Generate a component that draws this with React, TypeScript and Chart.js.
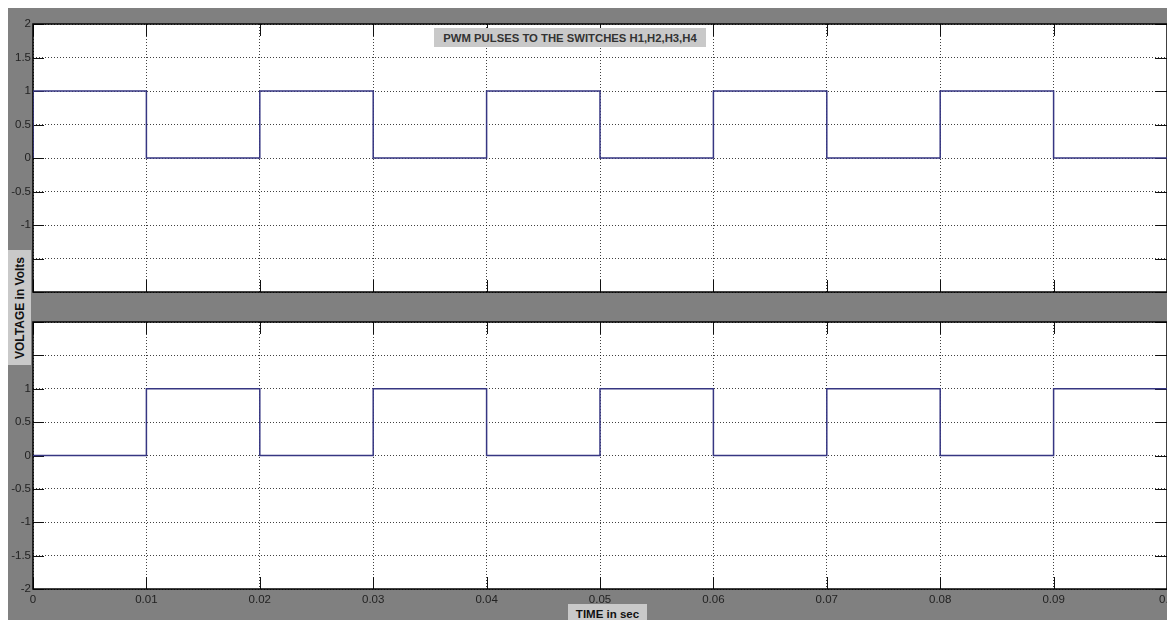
import React, { useEffect, useRef } from 'react';
import { Chart, registerables } from 'chart.js';

Chart.register(...registerables);

// ---- data ----
const timeSec = [0, 0, 0.01, 0.02, 0.03, 0.04, 0.05, 0.06, 0.07, 0.08, 0.09, 0.1];
const pulsesH1H4 = [0, 1, 0, 1, 0, 1, 0, 1, 0, 1, 0, 0];
const pulsesH2H3 = [0, 0, 1, 0, 1, 0, 1, 0, 1, 0, 1, 1];
const xTickLabels = ['0', '0.01', '0.02', '0.03', '0.04', '0.05', '0.06', '0.07', '0.08', '0.09', '0.1'];
const yTickLabels = ['-2', '-1.5', '-1', '-0.5', '0', '0.5', '1', '1.5', '2'];
const titleText = 'PWM PULSES TO THE SWITCHES H1,H2,H3,H4';
const xTitleText = 'TIME in sec';
const yTitleText = 'VOLTAGE in Volts';

const FONT = "'Liberation Sans', Arial, Helvetica, sans-serif";
const LINE_COLOR = '#363682';

const scopePlugin = {
  id: 'scopeFrame',
  beforeDraw(chart: any) {
    const { ctx, chartArea: a } = chart;
    ctx.save();
    ctx.fillStyle = '#ffffff';
    ctx.fillRect(a.left, a.top, a.right - a.left, a.bottom - a.top);
    ctx.restore();
  },
  beforeDatasetsDraw(chart: any) {
    const { ctx, chartArea: a, scales } = chart;
    ctx.save();
    ctx.strokeStyle = '#111';
    ctx.lineWidth = 1;
    ctx.beginPath();
    scales.y.ticks.forEach((t: any) => {
      const p = Math.round(scales.y.getPixelForValue(t.value)) + 0.5;
      ctx.moveTo(a.left, p);
      ctx.lineTo(a.left + 11, p);
      ctx.moveTo(a.right - 12, p);
      ctx.lineTo(a.right, p);
    });
    scales.x.ticks.forEach((t: any) => {
      const p = Math.round(scales.x.getPixelForValue(t.value)) + 0.5;
      ctx.moveTo(p, a.top);
      ctx.lineTo(p, a.top + 12);
      ctx.moveTo(p, a.bottom - 12);
      ctx.lineTo(p, a.bottom);
    });
    ctx.stroke();
    ctx.lineWidth = 1.5;
    ctx.strokeStyle = '#000';
    ctx.strokeRect(a.left, a.top, a.right - a.left, a.bottom - a.top);
    ctx.restore();
  },
};

function makeConfig(values: number[], showX: boolean, pad: any) {
  return {
    type: 'line' as const,
    data: {
      datasets: [
        {
          data: timeSec.map((t, i) => ({ x: t, y: values[i] })),
          borderColor: LINE_COLOR,
          borderWidth: 1.5,
          pointRadius: 0,
          stepped: true,
          fill: false,
        },
      ],
    },
    options: {
      responsive: false,
      animation: false as const,
      events: [],
      layout: { padding: pad },
      plugins: { legend: { display: false }, tooltip: { enabled: false }, title: { display: false } },
      scales: {
        x: {
          type: 'linear' as const,
          min: 0,
          max: 0.1,
          grid: { color: 'rgba(0,0,0,0.75)', lineWidth: 1, drawTicks: false },
          border: { display: false, dash: [1, 2] },
          ticks: {
            display: showX,
            stepSize: 0.01,
            autoSkip: false,
            maxRotation: 0,
            padding: 4,
            color: '#222',
            font: { family: FONT, size: 11.5 },
            callback: (_v: any, i: number) => xTickLabels[i],
          },
          afterFit: (s: any) => {
            s.height = showX ? 31 : 0;
          },
        },
        y: {
          type: 'linear' as const,
          min: -2,
          max: 2,
          grid: { color: 'rgba(0,0,0,0.75)', lineWidth: 1, drawTicks: false },
          border: { display: false, dash: [1, 2] },
          ticks: {
            stepSize: 0.5,
            autoSkip: false,
            padding: 2,
            color: '#222',
            font: { family: FONT, size: 11.5 },
            callback: (_v: any, i: number) => yTickLabels[i],
          },
          afterFit: (s: any) => {
            s.width = 25;
          },
        },
      },
    },
    plugins: [scopePlugin],
  };
}

export default function App() {
  const topRef = useRef<HTMLCanvasElement>(null);
  const botRef = useRef<HTMLCanvasElement>(null);

  useEffect(() => {
    const c1 = new Chart(topRef.current as HTMLCanvasElement, makeConfig(pulsesH1H4, false, { top: 16, bottom: 16, left: 0, right: 31 }) as any);
    const c2 = new Chart(botRef.current as HTMLCanvasElement, makeConfig(pulsesH2H3, true, { top: 24, bottom: 0, left: 0, right: 31 }) as any);
    return () => {
      c1.destroy();
      c2.destroy();
    };
  }, []);

  const box: React.CSSProperties = {
    position: 'absolute',
    background: '#c9c9c9',
    color: '#222',
    fontFamily: FONT,
    fontWeight: 'bold',
    display: 'flex',
    alignItems: 'center',
    justifyContent: 'center',
    whiteSpace: 'nowrap',
  };

  return (
    <div
      style={{
        position: 'fixed',
        left: 8,
        top: 8,
        width: 1159,
        height: 612,
        background: '#808080',
        overflow: 'hidden',
      }}
    >
      <canvas ref={topRef} width={1190} height={300} style={{ position: 'absolute', left: 0, top: 0, width: 1190, height: 300 }} />
      <canvas ref={botRef} width={1190} height={322} style={{ position: 'absolute', left: 0, top: 290, width: 1190, height: 322 }} />
      <div style={{ ...box, left: 426, top: 20, width: 272, height: 19, fontSize: 11.3, color: '#333' }}>{titleText}</div>
      <div style={{ ...box, left: 560, top: 596, width: 79, height: 20, fontSize: 11.5, color: '#111' }}>{xTitleText}</div>
      <div style={{ ...box, left: 0, top: 242, width: 23, height: 115 }}>
        <span style={{ display: 'inline-block', transform: 'rotate(-90deg)', fontSize: 12, color: '#111' }}>{yTitleText}</span>
      </div>
    </div>
  );
}
